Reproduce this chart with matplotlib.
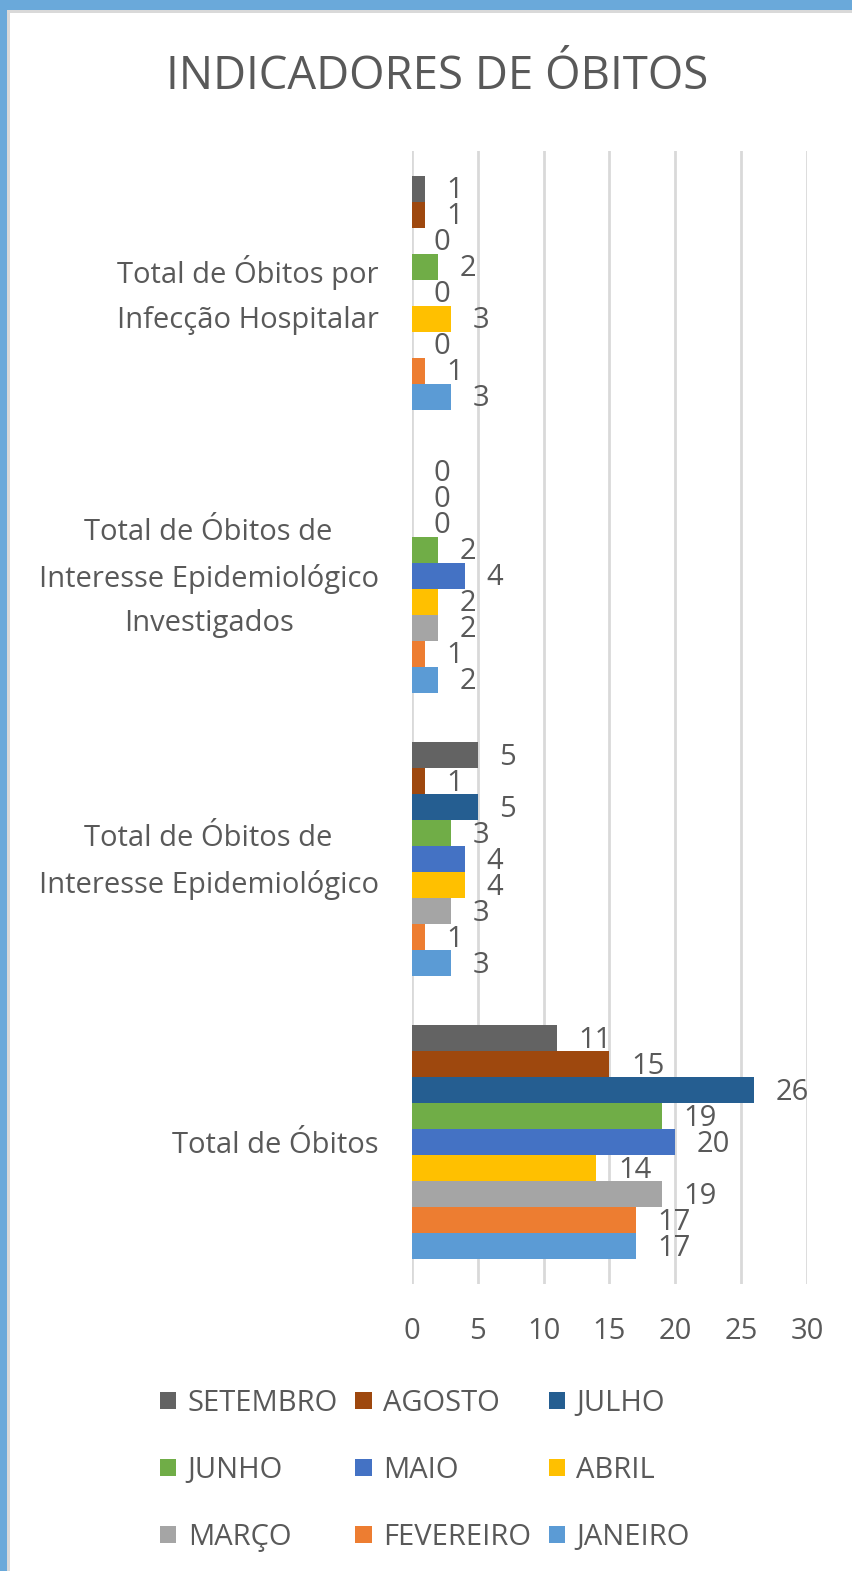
import matplotlib
matplotlib.use("Agg")
import matplotlib.pyplot as plt
from matplotlib.patches import Rectangle, Patch
from matplotlib.transforms import ScaledTranslation
import numpy as np

plt.rcParams['font.family'] = ['Open Sans', 'DejaVu Sans']

categories = ["Total de Óbitos",
              "Total de Óbitos de\nInteresse Epidemiológico",
              "Total de Óbitos de\nInteresse Epidemiológico\nInvestigados",
              "Total de Óbitos por\nInfecção Hospitalar"]
months = ["JANEIRO", "FEVEREIRO", "MARÇO", "ABRIL", "MAIO", "JUNHO", "JULHO", "AGOSTO", "SETEMBRO"]
colors = ["#5B9BD5", "#ED7D31", "#A5A5A5", "#FFC000", "#4472C4", "#70AD47", "#255E91", "#9E480E", "#636363"]
values = {
    "JANEIRO":   [17, 3, 2, 3],
    "FEVEREIRO": [17, 1, 1, 1],
    "MARÇO":     [19, 3, 2, 0],
    "ABRIL":     [14, 4, 2, 3],
    "MAIO":      [20, 4, 4, 0],
    "JUNHO":     [19, 3, 2, 2],
    "JULHO":     [26, 5, 0, 0],
    "AGOSTO":    [15, 1, 0, 1],
    "SETEMBRO":  [11, 5, 0, 1],
}
xticks = [0, 5, 10, 15, 20, 25, 30]
title = "INDICADORES DE ÓBITOS"

TXT = "#595959"
FS = 21
W, H = 853, 1571
fig = plt.figure(figsize=(W / 100, H / 100), dpi=100)
fig.patch.set_facecolor("white")
# frame: blue top and left, grey inner line
fig.patches.append(Rectangle((0, 1 - 10 / H), 1, 10 / H, transform=fig.transFigure,
                             facecolor="#6AA9DA", edgecolor="none", zorder=0))
fig.patches.append(Rectangle((0, 0), 7 / W, 1, transform=fig.transFigure,
                             facecolor="#6AA9DA", edgecolor="none", zorder=0))
fig.patches.append(Rectangle((7 / W, 1 - 13 / H), 1, 3 / H, transform=fig.transFigure,
                             facecolor="#D9D9D9", edgecolor="none", zorder=0))
fig.patches.append(Rectangle((7 / W, 0), 3 / W, 1 - 10 / H, transform=fig.transFigure,
                             facecolor="#D9D9D9", edgecolor="none", zorder=0))

ax = fig.add_axes([412 / W, 1 - 1284 / H, 395 / W, 1133 / H])
n = len(months)
group = 0.826
bh = group / n
y = np.arange(len(categories))
for i, (m, c) in enumerate(zip(months, colors)):
    pos = y - group / 2 + bh * (i + 0.5)
    vals = values[m]
    ax.barh(pos, vals, height=bh, color=c, edgecolor="none", zorder=3, label=m)
    for p, v in zip(pos, vals):
        ax.annotate(str(v), (v, p), xytext=(15.5, -1.5), textcoords="offset points",
                    ha="left", va="center", fontsize=FS, color=TXT, zorder=4)

ax.set_xlim(0, 30)
ax.set_ylim(-0.5, len(categories) - 0.5)
ax.set_xticks(xticks)
ax.set_xticklabels([str(t) for t in xticks])
ax.set_yticks(y)
ax.set_yticklabels(categories, multialignment="center", linespacing=1.72)
ax.tick_params(axis="x", length=0, pad=23.5, labelsize=FS, labelcolor=TXT)
ax.tick_params(axis="y", length=0, pad=24, labelsize=FS, labelcolor=TXT)
for lab in ax.get_yticklabels():
    if "\n" in lab.get_text():
        lab.set_transform(lab.get_transform() + ScaledTranslation(0, 9 / 100, fig.dpi_scale_trans))
for s in ax.spines.values():
    s.set_visible(False)
ax.grid(axis="x", color="#D9D9D9", linewidth=2, zorder=0)
ax.set_axisbelow(True)

fig.text(437 / W, 1 - 77 / H, title, ha="center", va="center", fontsize=32.8, color=TXT)

# legend ordered row-wise: SET AGO JUL / JUN MAI ABR / MAR FEV JAN
order_rows = [["SETEMBRO", "AGOSTO", "JULHO"], ["JUNHO", "MAIO", "ABRIL"], ["MARÇO", "FEVEREIRO", "JANEIRO"]]
cmap = dict(zip(months, colors))
handles, labels = [], []
for col in range(3):
    for row in range(3):
        m = order_rows[row][col]
        handles.append(Patch(facecolor=cmap[m], edgecolor="none"))
        labels.append(m)
leg = fig.legend(handles, labels, ncol=3, loc="upper left",
                 bbox_to_anchor=(160 / W, 1 - 1389 / H), frameon=False,
                 fontsize=FS, labelcolor=TXT, handlelength=0.55, handleheight=0.55,
                 handletextpad=0.4, columnspacing=0.6, labelspacing=1.3,
                 borderpad=0, borderaxespad=0)

fig.savefig("out.png", dpi=100)
